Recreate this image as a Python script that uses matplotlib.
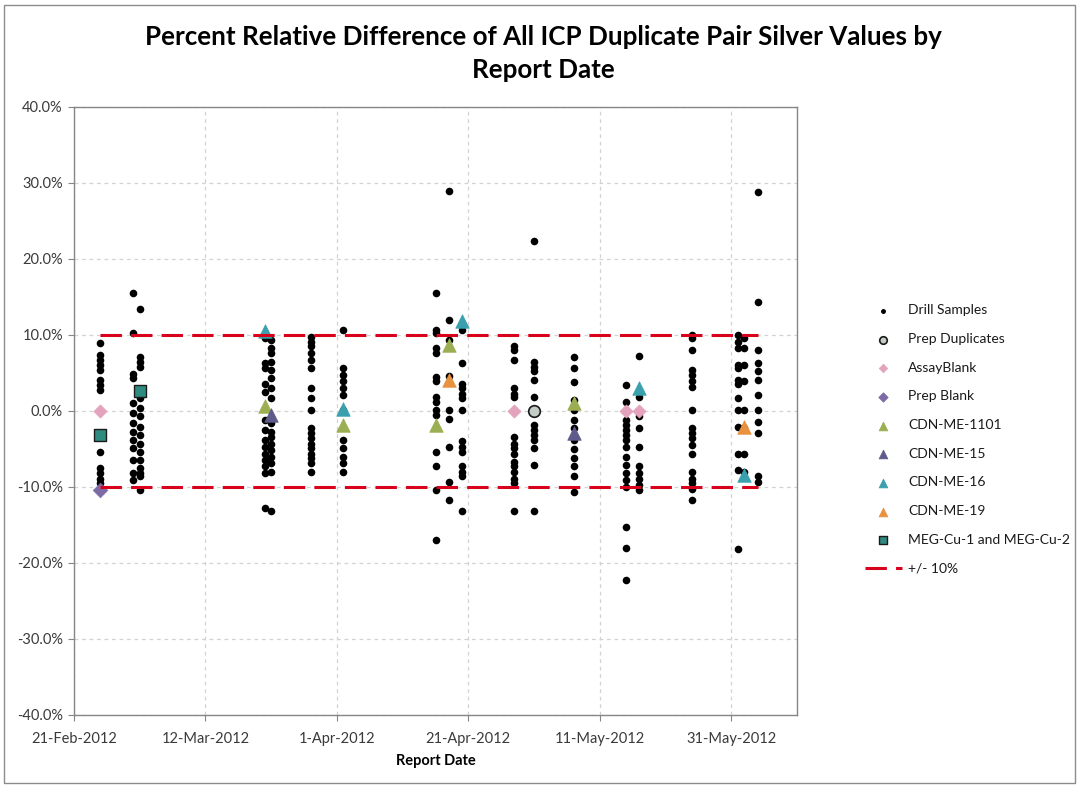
import matplotlib
matplotlib.use("Agg")
import matplotlib.pyplot as plt
import matplotlib.dates as mdates
from matplotlib.patches import Rectangle
from matplotlib.ticker import FuncFormatter
from datetime import datetime

plt.rcParams["font.family"] = ["Lato", "DejaVu Sans"]

# ---- data: percent relative difference (%) by report date ----
drill_dates = [
    "2012-02-25", "2012-03-01", "2012-03-02", "2012-03-21", "2012-03-22",
    "2012-03-28", "2012-04-02", "2012-04-16", "2012-04-18", "2012-04-20",
    "2012-04-28", "2012-05-01", "2012-05-07", "2012-05-15", "2012-05-17",
    "2012-05-25", "2012-06-01", "2012-06-02", "2012-06-04",
]
drill_values = [
    [8.9, 7.4, 6.7, 6.1, 5.4, 4.1, 3.4, 2.8, -5.4, -7.5, -8.2, -8.9, -9.5],
    [15.5, 10.2, 4.9, 4.3, 1.0, -0.3, -1.6, -2.7, -3.8, -4.9, -6.4, -8.2, -9.1],
    [13.4, 7.1, 6.5, 5.8, 1.7, 0.4, -0.7, -2.1, -3.2, -4.3, -5.4, -6.4, -7.5,
     -8.2, -8.6, -10.4],
    [9.6, 6.3, 5.6, 3.6, 2.5, -1.2, -2.5, -3.8, -4.7, -5.6, -6.4, -7.3, -8.2,
     -12.8],
    [9.3, 8.3, 7.6, 6.5, 5.4, 4.3, 3.0, 1.7, -1.6, -2.7, -3.4, -4.3, -5.1,
     -6.0, -6.9, -8.0, -13.2],
    [9.8, 9.1, 8.5, 7.6, 6.7, 5.6, 3.0, 1.7, 0.1, -2.3, -2.9, -3.6, -4.3,
     -4.9, -5.6, -6.2, -6.9, -8.0],
    [10.7, 5.6, 4.7, 3.9, 3.0, 2.1, 0.1, -3.8, -4.9, -6.0, -6.9, -8.0],
    [15.5, 10.7, 10.2, 8.3, 7.6, 4.5, 3.9, 1.9, 1.2, 0.1, -0.5, -5.4, -7.3,
     -10.4, -17.0],
    [28.9, 12.0, 9.3, 4.6, 0.1, -1.0, -4.7, -9.3, -11.7],
    [10.7, 6.3, 3.6, 3.0, 2.3, 1.7, 0.1, -4.0, -4.7, -5.4, -7.3, -8.0, -8.6,
     -13.2],
    [8.5, 8.0, 6.7, 3.0, 2.3, 1.9, -3.4, -4.3, -4.9, -5.6, -6.7, -7.3, -8.0,
     -8.9, -9.5, -13.2],
    [22.4, 6.5, 5.8, 5.2, 4.1, 1.9, -1.8, -2.5, -3.2, -3.8, -4.9, -7.1, -13.2],
    [7.1, 5.6, 3.8, 1.5, 0.1, -1.2, -2.3, -3.8, -5.0, -6.2, -7.3, -8.6, -10.7],
    [3.4, 1.2, -1.2, -1.8, -2.5, -3.2, -3.8, -4.7, -6.0, -7.1, -8.2, -9.1,
     -10.0, -15.3, -18.0, -22.2],
    [7.2, 1.9, -0.7, -2.3, -4.7, -7.3, -8.2, -9.0, -9.7, -10.4],
    [10.0, 9.6, 8.0, 5.4, 4.7, 3.9, 3.2, 0.1, -2.3, -2.9, -3.6, -4.5, -5.6,
     -8.0, -8.9, -9.5, -10.2, -11.7],
    [10.0, 9.1, 8.3, 6.1, 5.6, 4.1, 3.6, 1.7, 0.1, -2.1, -5.6, -7.8, -18.1],
    [9.6, 8.3, 6.1, 3.9, 0.1, -2.3, -5.6, -8.0],
    [28.8, 14.4, 8.0, 6.3, 5.2, 4.1, 2.1, 0.1, -1.4, -2.9, -8.6, -9.3],
]

prep_dup_dates = ["2012-05-01"]
prep_dup_values = [0.0]

assay_blank_dates = ["2012-02-25", "2012-04-28", "2012-05-15", "2012-05-17"]
assay_blank_values = [0.0, 0.0, 0.0, 0.0]

prep_blank_dates = ["2012-02-25"]
prep_blank_values = [-10.4]

cdn_1101_dates = ["2012-03-21", "2012-04-02", "2012-04-16", "2012-04-18", "2012-05-07"]
cdn_1101_values = [0.7, -1.8, -1.8, 8.7, 1.0]

cdn_15_dates = ["2012-03-22", "2012-05-07"]
cdn_15_values = [-0.5, -2.9]

cdn_16_dates = ["2012-03-21", "2012-04-02", "2012-04-20", "2012-05-17", "2012-06-02"]
cdn_16_values = [10.5, 0.2, 11.8, 3.0, -8.4]

cdn_19_dates = ["2012-04-18", "2012-06-02"]
cdn_19_values = [4.1, -2.1]

meg_cu_dates = ["2012-02-25", "2012-03-02"]
meg_cu_values = [-3.1, 2.6]

limit_pct = 10.0
tick_dates = ["2012-02-21", "2012-03-12", "2012-04-01", "2012-04-21", "2012-05-11", "2012-05-31"]
x_range = ["2012-02-21", "2012-06-10"]
y_ticks = [-40, -30, -20, -10, 0, 10, 20, 30, 40]


def to_dt(seq):
    return [datetime.strptime(s, "%Y-%m-%d") for s in seq]


fig = plt.figure(figsize=(10.79, 7.88), dpi=100)
fig.patch.set_facecolor("white")

# chart-area border
fig.add_artist(Rectangle((4 / 1079, 1 - 783 / 788), 1071 / 1079, 778 / 788,
                         transform=fig.transFigure, fill=False,
                         edgecolor="#8c8c8c", linewidth=1.0))

ax = fig.add_axes([74 / 1079, 1 - 715 / 788, 723 / 1079, 608 / 788])

grid_kw = dict(color="#d2d2d2", linewidth=0.9, linestyle=(0, (3, 3)), zorder=0)
ax.set_xlim(mdates.date2num(to_dt(x_range)[0]), mdates.date2num(to_dt(x_range)[1]))
ax.set_ylim(y_ticks[0], y_ticks[-1])
ax.set_xticks(mdates.date2num(to_dt(tick_dates)))
ax.set_yticks(y_ticks)
ax.grid(True, **grid_kw)
ax.set_axisbelow(True)

# drill samples
xs, ys = [], []
for d, vals in zip(to_dt(drill_dates), drill_values):
    xs.extend([d] * len(vals))
    ys.extend(vals)
ax.scatter(xs, ys, s=30, marker="o", color="black", linewidths=0, zorder=3,
           label="Drill Samples")

series = [
    (prep_dup_dates, prep_dup_values, "o", "#c4ccc6", "#1a1a1a", 70, 1.2, "Prep Duplicates"),
    (assay_blank_dates, assay_blank_values, "D", "#e3a3bd", "#e3a3bd", 45, 0.5, "AssayBlank"),
    (prep_blank_dates, prep_blank_values, "D", "#7e6ba6", "#7e6ba6", 55, 0.5, "Prep Blank"),
    (cdn_1101_dates, cdn_1101_values, "^", "#9bae52", "#9bae52", 95, 0.5, "CDN-ME-1101"),
    (cdn_15_dates, cdn_15_values, "^", "#5e5b8c", "#5e5b8c", 95, 0.5, "CDN-ME-15"),
    (cdn_16_dates, cdn_16_values, "^", "#3aa0ad", "#3aa0ad", 95, 0.5, "CDN-ME-16"),
    (cdn_19_dates, cdn_19_values, "^", "#e8913f", "#e8913f", 95, 0.5, "CDN-ME-19"),
    (meg_cu_dates, meg_cu_values, "s", "#2f8a80", "#1a1a1a", 85, 1.0, "MEG-Cu-1 and MEG-Cu-2"),
]
for dates, vals, mk, fc, ec, sz, lw, lab in series:
    ax.scatter(to_dt(dates), vals, s=sz, marker=mk, facecolor=fc, edgecolor=ec,
               linewidths=lw, zorder=4, label=lab)

# +/- 10% limits over the reported date range
span = [min(to_dt(drill_dates)), max(to_dt(drill_dates))]
dash = (0, (7, 3))
ax.plot(span, [limit_pct, limit_pct], color="#d9001b", linewidth=2.2,
        linestyle=dash, zorder=5, label="+/- 10%")
ax.plot(span, [-limit_pct, -limit_pct], color="#d9001b", linewidth=2.2,
        linestyle=dash, zorder=5)

ax.xaxis.set_major_formatter(FuncFormatter(
    lambda v, p: f"{mdates.num2date(v).day}-{mdates.num2date(v).strftime('%b-%Y')}"))
ax.yaxis.set_major_formatter(FuncFormatter(lambda v, p: f"{v:.1f}%"))

for sp in ax.spines.values():
    sp.set_color("#868686")
    sp.set_linewidth(1.0)
ax.tick_params(axis="both", direction="out", length=4, width=0.8, color="#868686",
               labelsize=10.5, labelcolor="#3a3a3a")
ax.tick_params(axis="x", pad=8)
ax.tick_params(axis="y", pad=4)

ax.set_xlabel("Report Date", fontsize=10.5, fontweight="bold", labelpad=6)

fig.text(0.504, 0.953,
         "Percent Relative Difference of All ICP Duplicate Pair Silver Values by",
         ha="center", va="center", fontsize=18.7, fontweight="bold")
fig.text(0.504, 0.911, "Report Date", ha="center", va="center",
         fontsize=18.7, fontweight="bold")

handles, labels = ax.get_legend_handles_labels()
leg = fig.legend(handles, labels, loc="upper left",
                 bbox_to_anchor=(852 / 1079, 1 - 292 / 788),
                 frameon=False, fontsize=10.0, labelspacing=1.2,
                 handlelength=2.7, handletextpad=0.45, markerscale=0.65)
for t in leg.get_texts():
    t.set_color("#1a1a1a")

fig.savefig("out.png", dpi=100)
